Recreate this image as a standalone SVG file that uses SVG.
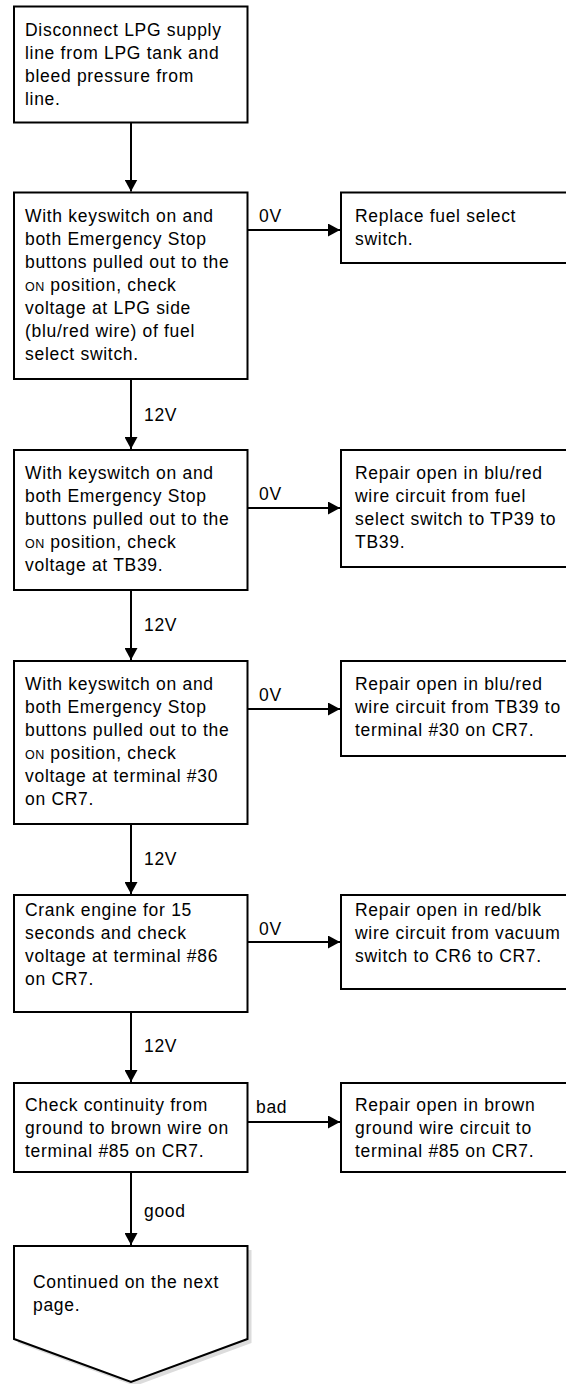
<svg xmlns="http://www.w3.org/2000/svg" width="566" height="1384" viewBox="0 0 566 1384">
<style>
.box{fill:#fff;stroke:#000;stroke-width:2}
.t{font-family:"Liberation Sans",Arial,sans-serif;font-size:17.5px;letter-spacing:0.7px;fill:#000}
.sc{font-size:12.5px;letter-spacing:0.5px}
.ln{stroke:#000;stroke-width:2;fill:none}
</style>
<defs>
<marker id="ah" markerUnits="userSpaceOnUse" markerWidth="12" markerHeight="13" refX="12" refY="6.5" orient="auto">
<path d="M0,0 L12,6.5 L0,13 Z" fill="#000"/>
</marker>
</defs>
<rect width="566" height="1384" fill="#fff"/>

<g id="connectors">
<line class="ln" x1="131" y1="122.5" x2="131" y2="191.5" marker-end="url(#ah)"/>
<line class="ln" x1="247.5" y1="230" x2="340" y2="230" marker-end="url(#ah)"/>
<line class="ln" x1="131" y1="379" x2="131" y2="449" marker-end="url(#ah)"/>
<line class="ln" x1="247.5" y1="508" x2="340" y2="508" marker-end="url(#ah)"/>
<line class="ln" x1="131" y1="590" x2="131" y2="660" marker-end="url(#ah)"/>
<line class="ln" x1="247.5" y1="709" x2="340" y2="709" marker-end="url(#ah)"/>
<line class="ln" x1="131" y1="824" x2="131" y2="894" marker-end="url(#ah)"/>
<line class="ln" x1="247.5" y1="942" x2="340" y2="942" marker-end="url(#ah)"/>
<line class="ln" x1="131" y1="1012" x2="131" y2="1082" marker-end="url(#ah)"/>
<line class="ln" x1="247.5" y1="1122" x2="340" y2="1122" marker-end="url(#ah)"/>
<line class="ln" x1="131" y1="1172" x2="131" y2="1245" marker-end="url(#ah)"/>
<text class="t" x="259" y="222">0V</text>
<text class="t" x="144" y="421">12V</text>
<text class="t" x="259" y="500">0V</text>
<text class="t" x="144" y="631">12V</text>
<text class="t" x="259" y="701">0V</text>
<text class="t" x="144" y="865">12V</text>
<text class="t" x="259" y="935">0V</text>
<text class="t" x="144" y="1052">12V</text>
<text class="t" x="256" y="1113">bad</text>
<text class="t" x="144" y="1217">good</text>
</g>

<g id="n1">
<rect class="box" x="14" y="6.5" width="233.5" height="116"/>
<text class="t" x="25" y="36">Disconnect LPG supply</text>
<text class="t" x="25" y="59">line from LPG tank and</text>
<text class="t" x="25" y="82">bleed pressure from</text>
<text class="t" x="25" y="105">line.</text>
</g>

<g id="n2">
<rect class="box" x="14" y="192.5" width="233.5" height="186.5"/>
<text class="t" x="25" y="222">With keyswitch on and</text>
<text class="t" x="25" y="245">both Emergency Stop</text>
<text class="t" x="25" y="268">buttons pulled out to the</text>
<text class="t" x="25" y="291"><tspan class="sc">ON</tspan> position, check</text>
<text class="t" x="25" y="314">voltage at LPG side</text>
<text class="t" x="25" y="337">(blu/red wire) of fuel</text>
<text class="t" x="25" y="360">select switch.</text>
</g>

<g id="r1">
<rect class="box" x="341" y="192.5" width="228" height="70.5"/>
<text class="t" x="355" y="222">Replace fuel select</text>
<text class="t" x="355" y="245">switch.</text>
</g>

<g id="n3">
<rect class="box" x="14" y="450" width="233.5" height="140"/>
<text class="t" x="25" y="479">With keyswitch on and</text>
<text class="t" x="25" y="502">both Emergency Stop</text>
<text class="t" x="25" y="525">buttons pulled out to the</text>
<text class="t" x="25" y="548"><tspan class="sc">ON</tspan> position, check</text>
<text class="t" x="25" y="571">voltage at TB39.</text>
</g>

<g id="r2">
<rect class="box" x="341" y="450" width="228" height="117"/>
<text class="t" x="355" y="479">Repair open in blu/red</text>
<text class="t" x="355" y="502">wire circuit from fuel</text>
<text class="t" x="355" y="525">select switch to TP39 to</text>
<text class="t" x="355" y="548">TB39.</text>
</g>

<g id="n4">
<rect class="box" x="14" y="661" width="233.5" height="163"/>
<text class="t" x="25" y="690">With keyswitch on and</text>
<text class="t" x="25" y="713">both Emergency Stop</text>
<text class="t" x="25" y="736">buttons pulled out to the</text>
<text class="t" x="25" y="759"><tspan class="sc">ON</tspan> position, check</text>
<text class="t" x="25" y="782">voltage at terminal #30</text>
<text class="t" x="25" y="805">on CR7.</text>
</g>

<g id="r3">
<rect class="box" x="341" y="661" width="228" height="95"/>
<text class="t" x="355" y="690">Repair open in blu/red</text>
<text class="t" x="355" y="713">wire circuit from TB39 to</text>
<text class="t" x="355" y="736">terminal #30 on CR7.</text>
</g>

<g id="n5">
<rect class="box" x="14" y="895" width="233.5" height="117"/>
<text class="t" x="25" y="916">Crank engine for 15</text>
<text class="t" x="25" y="939">seconds and check</text>
<text class="t" x="25" y="962">voltage at terminal #86</text>
<text class="t" x="25" y="985">on CR7.</text>
</g>

<g id="r4">
<rect class="box" x="341" y="895" width="228" height="94"/>
<text class="t" x="355" y="916">Repair open in red/blk</text>
<text class="t" x="355" y="939">wire circuit from vacuum</text>
<text class="t" x="355" y="962">switch to CR6 to CR7.</text>
</g>

<g id="n6">
<rect class="box" x="14" y="1083" width="233.5" height="89"/>
<text class="t" x="25" y="1111">Check continuity from</text>
<text class="t" x="25" y="1134">ground to brown wire on</text>
<text class="t" x="25" y="1157">terminal #85 on CR7.</text>
</g>

<g id="r5">
<rect class="box" x="341" y="1083" width="228" height="89"/>
<text class="t" x="355" y="1111">Repair open in brown</text>
<text class="t" x="355" y="1134">ground wire circuit to</text>
<text class="t" x="355" y="1157">terminal #85 on CR7.</text>
</g>

<g id="n7">
<polygon points="18,1250 251.5,1250 251.5,1343 135,1386 18,1343" fill="#dcdcdc"/>
<polygon class="box" points="14,1246 247.5,1246 247.5,1339 131,1382 14,1339"/>
<text class="t" x="33" y="1288">Continued on the next</text>
<text class="t" x="33" y="1311">page.</text>
</g>
</svg>
